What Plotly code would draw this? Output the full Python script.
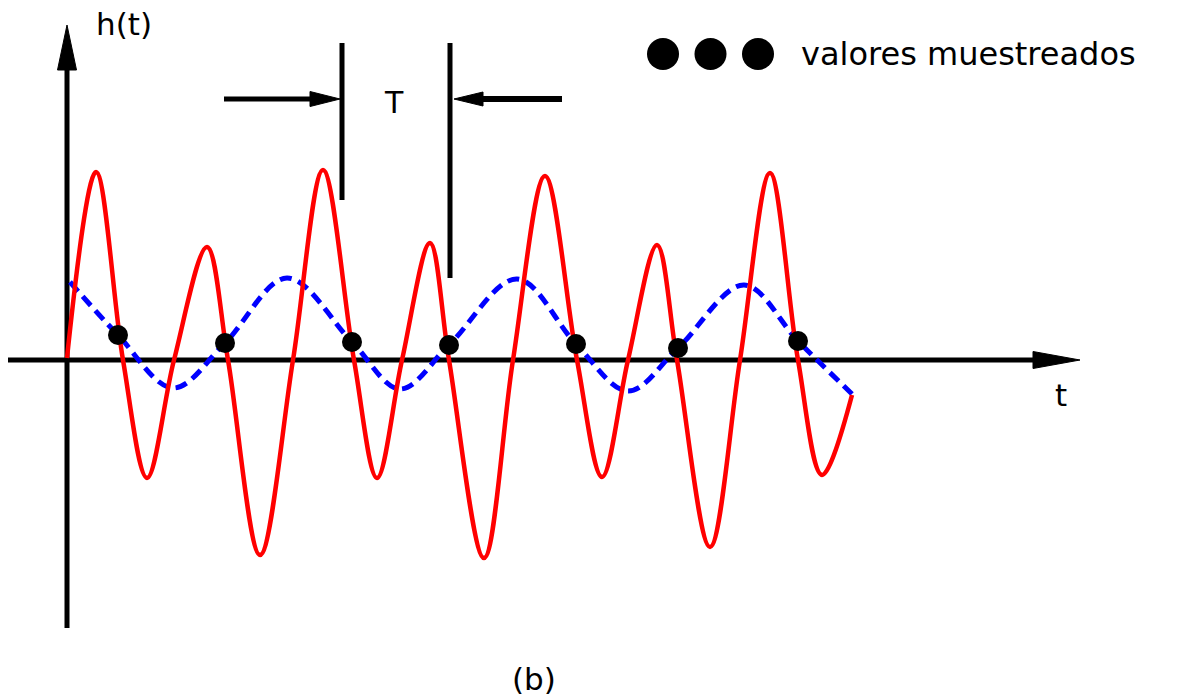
import plotly.graph_objects as go

# Original signal h(t): key points (peaks, troughs, zero crossings)
red_t = [0.00, 0.29, 0.56, 0.80, 1.07, 1.40, 1.61, 1.93, 2.26, 2.56, 2.87, 3.10,
         3.35, 3.63, 3.82, 4.17, 4.46, 4.78, 5.10, 5.35, 5.61, 5.90, 6.10, 6.43,
         6.73, 7.03, 7.31, 7.55, 7.85]
red_h = [0.02, 1.88, 0.00, -1.18, 0.00, 1.13, 0.00, -1.95, 0.00, 1.90, 0.00, -1.18,
         0.00, 1.17, 0.00, -1.98, 0.00, 1.84, 0.00, -1.17, 0.00, 1.15, 0.00, -1.87,
         0.00, 1.87, 0.00, -1.15, -0.35]

# Low-frequency alias reconstructed from the samples
blue_t = [0.03, 0.51, 1.06, 1.58, 2.20, 2.85, 3.33, 3.82, 4.50, 5.09, 5.61, 6.11, 6.77, 7.31, 7.85]
blue_h = [0.78, 0.25, -0.28, 0.17, 0.82, 0.18, -0.29, 0.15, 0.81, 0.16, -0.31, 0.12, 0.75, 0.19, -0.34]

# Sampled values
sample_t = [0.51, 1.58, 2.85, 3.82, 5.09, 6.11, 7.31]
sample_h = [0.25, 0.17, 0.18, 0.15, 0.16, 0.12, 0.19]

# Labels
y_label = "h(t)"
x_label = "t"
period_label = "T"
legend_label = "valores muestreados"
caption = "(b)"

# Layout geometry (data units)
X_RANGE = [-0.67, 11.28]
Y_RANGE = [-3.38, 3.60]
AXIS_W = 5
FONT = "DejaVu Sans"

fig = go.Figure()

fig.add_trace(go.Scatter(
    x=blue_t, y=blue_h, mode="lines",
    line=dict(color="#0000ff", width=5, dash="12px,7px", shape="spline"),
    hoverinfo="skip"))
fig.add_trace(go.Scatter(
    x=red_t, y=red_h, mode="lines",
    line=dict(color="#ff0000", width=4.5, shape="spline"),
    hoverinfo="skip"))
fig.add_trace(go.Scatter(
    x=sample_t, y=sample_h, mode="markers",
    marker=dict(color="black", size=20), hoverinfo="skip"))

# Legend key: three dots
LEG_X0, LEG_DX, LEG_Y = 5.96, 0.475, 3.06
fig.add_trace(go.Scatter(
    x=[LEG_X0 + i * LEG_DX for i in range(3)], y=[LEG_Y] * 3, mode="markers",
    marker=dict(color="black", size=32), hoverinfo="skip"))

shapes = []
# vertical axis with arrow
Y_BOT, Y_HEAD, Y_TIP, Y_HW = -2.68, 2.90, 3.35, 0.095
shapes.append(dict(type="line", x0=0, x1=0, y0=Y_BOT, y1=Y_HEAD + 0.05,
                   line=dict(color="black", width=AXIS_W), layer="below"))
shapes.append(dict(type="path",
                   path=f"M {-Y_HW} {Y_HEAD} L {Y_HW} {Y_HEAD} L 0 {Y_TIP} Z",
                   fillcolor="black", line=dict(color="black", width=1)))
# horizontal axis with arrow
X_LEFT, X_HEAD, X_TIP, X_HH = -0.59, 9.66, 10.13, 0.085
shapes.append(dict(type="line", x0=X_LEFT, x1=X_HEAD + 0.05, y0=0, y1=0,
                   line=dict(color="black", width=AXIS_W), layer="below"))
shapes.append(dict(type="path",
                   path=f"M {X_HEAD} {-X_HH} L {X_HEAD} {X_HH} L {X_TIP} 0 Z",
                   fillcolor="black", line=dict(color="black", width=1)))

# sampling-period marker T
T_L, T_R, T_TOP = 2.75, 3.83, 3.17
shapes.append(dict(type="line", x0=T_L, x1=T_L, y0=T_TOP, y1=1.60,
                   line=dict(color="black", width=5)))
shapes.append(dict(type="line", x0=T_R, x1=T_R, y0=T_TOP, y1=0.82,
                   line=dict(color="black", width=5)))
A_Y = 2.61
shapes.append(dict(type="line", x0=1.57, x1=2.45, y0=A_Y, y1=A_Y,
                   line=dict(color="black", width=5)))
shapes.append(dict(type="path",
                   path=f"M 2.43 {A_Y - 0.075} L 2.43 {A_Y + 0.075} L 2.73 {A_Y} Z",
                   fillcolor="black", line=dict(color="black", width=1)))
shapes.append(dict(type="line", x0=4.14, x1=4.95, y0=A_Y, y1=A_Y,
                   line=dict(color="black", width=6)))
shapes.append(dict(type="path",
                   path=f"M 4.16 {A_Y - 0.07} L 4.16 {A_Y + 0.07} L 3.87 {A_Y} Z",
                   fillcolor="black", line=dict(color="black", width=1)))

annotations = [
    dict(x=0.565, y=3.36, text=y_label, xanchor="center", yanchor="middle",
         font=dict(size=31)),
    dict(x=3.27, y=2.58, text=period_label, xanchor="center", yanchor="middle",
         font=dict(size=30)),
    dict(x=7.32, y=3.06, text=legend_label, xanchor="left", yanchor="middle",
         font=dict(size=32)),
    dict(x=9.94, y=-0.35, text=x_label, xanchor="center", yanchor="middle",
         font=dict(size=31)),
    dict(x=4.665, y=-3.19, text=caption, xanchor="center", yanchor="middle",
         font=dict(size=31)),
]
for a in annotations:
    a.update(xref="x", yref="y", showarrow=False)
    a["font"].update(family=FONT, color="black")

fig.update_layout(
    width=1195, height=698, autosize=False,
    margin=dict(l=0, r=0, t=0, b=0),
    paper_bgcolor="white", plot_bgcolor="white",
    showlegend=False,
    xaxis=dict(visible=False, range=X_RANGE, fixedrange=True),
    yaxis=dict(visible=False, range=Y_RANGE, fixedrange=True),
    shapes=shapes, annotations=annotations,
)

fig.write_html("out.html")
